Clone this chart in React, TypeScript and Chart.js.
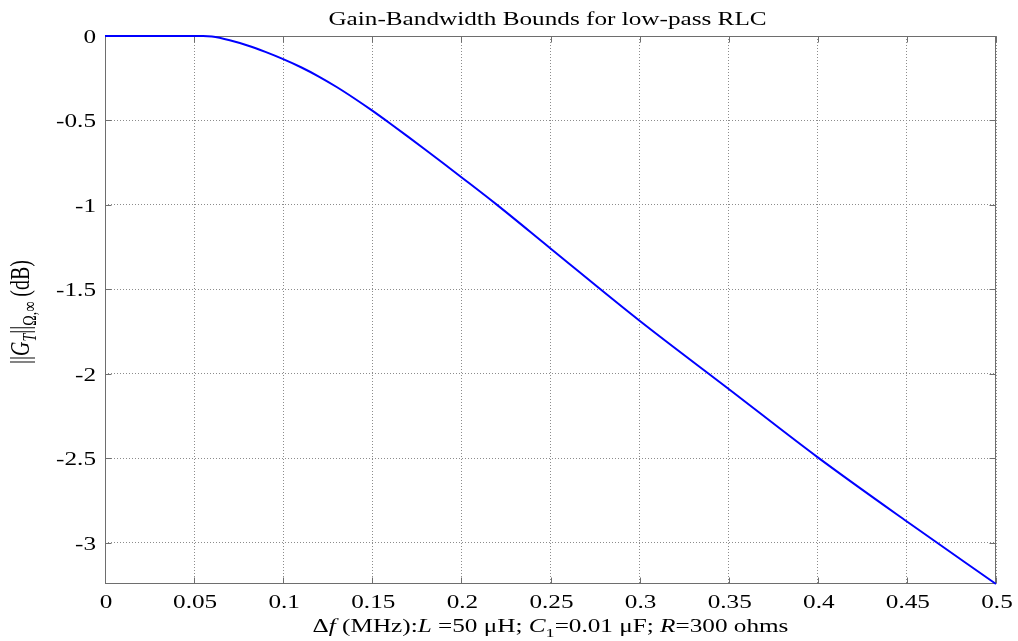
import React, { useEffect, useRef } from "react";
import { Chart, registerables } from "chart.js";

Chart.register(...registerables);

// Frequency offset Δf (MHz)
const freq = [
  0, 0.02, 0.04, 0.055, 0.06, 0.07, 0.08, 0.09, 0.1, 0.11, 0.12, 0.13, 0.14,
  0.15, 0.16, 0.17, 0.18, 0.19, 0.2, 0.22, 0.25, 0.3, 0.35, 0.4, 0.45, 0.5,
];
// Gain bound (dB)
const gainDb = [
  0, 0, 0, 0, -0.003, -0.025, -0.056, -0.094, -0.137, -0.185, -0.24, -0.302,
  -0.37, -0.442, -0.518, -0.596, -0.675, -0.755, -0.836, -1.0, -1.258, -1.686,
  -2.09, -2.495, -2.875, -3.245,
];
const xTicks = [0, 0.05, 0.1, 0.15, 0.2, 0.25, 0.3, 0.35, 0.4, 0.45, 0.5];
const xTickLabels = ["0", "0.05", "0.1", "0.15", "0.2", "0.25", "0.3", "0.35", "0.4", "0.45", "0.5"];
const yTicks = [0, -0.5, -1, -1.5, -2, -2.5, -3];
const yTickLabels = ["0", "-0.5", "-1", "-1.5", "-2", "-2.5", "-3"];
const xMin = 0;
const xMax = 0.5;
const yMin = -3.245;
const yMax = 0;

const titleText = "Gain-Bandwidth Bounds for low-pass RLC";
const serif = "'Liberation Serif', 'Times New Roman', serif";
const SX = 1.4; // horizontal stretch of the original figure's text

type Seg = { t: string; i?: boolean; sub?: boolean };
const xLabelSegs: Seg[] = [
  { t: "Δ" },
  { t: "f", i: true },
  { t: " (MHz):" },
  { t: "L", i: true },
  { t: " =50 μH; " },
  { t: "C", i: true },
  { t: "1", sub: true },
  { t: "=0.01 μF; " },
  { t: "R", i: true },
  { t: "=300 ohms" },
];
const yLabelSegs: Seg[] = [
  { t: "||" },
  { t: "G", i: true },
  { t: "T", i: true, sub: true },
  { t: "||" },
  { t: "Ω,∞", sub: true },
  { t: " (dB)" },
];

function drawSegs(ctx: CanvasRenderingContext2D, segs: Seg[], cx: number, y: number, size: number, sx: number) {
  const subSize = Math.round(size * 0.7);
  const fontOf = (s: Seg) => `${s.i ? "italic " : ""}${s.sub ? subSize : size}px ${serif}`;
  let total = 0;
  const widths = segs.map((s) => {
    ctx.font = fontOf(s);
    const w = ctx.measureText(s.t).width * sx;
    total += w;
    return w;
  });
  let x = cx - total / 2;
  segs.forEach((s, k) => {
    ctx.font = fontOf(s);
    ctx.save();
    ctx.translate(x, s.sub ? y + 5 : y);
    ctx.scale(sx, 1);
    ctx.textAlign = "left";
    ctx.textBaseline = "alphabetic";
    ctx.fillText(s.t, 0, 0);
    ctx.restore();
    x += widths[k];
  });
}

function drawText(ctx: CanvasRenderingContext2D, t: string, x: number, y: number, align: CanvasTextAlign) {
  ctx.save();
  ctx.translate(x, y);
  ctx.scale(SX, 1);
  ctx.textAlign = align;
  ctx.textBaseline = "alphabetic";
  ctx.fillText(t, 0, 0);
  ctx.restore();
}

const matlabPlugin = {
  id: "matlabDecor",
  beforeDatasetsDraw(chart: any) {
    const { ctx, chartArea: a, scales } = chart;
    ctx.save();
    const L = Math.round(a.left) + 0.5;
    const R = Math.round(a.right) - 0.5;
    const T = Math.round(a.top) + 0.5;
    const B = Math.round(a.bottom) - 0.5;
    ctx.strokeStyle = "#6e6e6e";
    ctx.lineWidth = 1;
    ctx.setLineDash([]);
    ctx.strokeRect(L, T, R - L, B - T);
    const tl = 6;
    ctx.beginPath();
    xTicks.forEach((v) => {
      const px = Math.round(scales.x.getPixelForValue(v)) + 0.5;
      ctx.moveTo(px, B);
      ctx.lineTo(px, B - tl);
      ctx.moveTo(px, T);
      ctx.lineTo(px, T + tl);
    });
    yTicks.forEach((v) => {
      const py = Math.round(scales.y.getPixelForValue(v)) + 0.5;
      ctx.moveTo(L, py);
      ctx.lineTo(L + tl, py);
      ctx.moveTo(R, py);
      ctx.lineTo(R - tl, py);
    });
    ctx.stroke();
    ctx.restore();
  },
  afterDraw(chart: any) {
    const { ctx, chartArea: a, scales } = chart;
    ctx.save();
    ctx.fillStyle = "#000";
    ctx.font = `18px ${serif}`;
    xTicks.forEach((v, i) => {
      drawText(ctx, xTickLabels[i], scales.x.getPixelForValue(v) + 1, 608, "center");
    });
    yTicks.forEach((v, i) => {
      drawText(ctx, yTickLabels[i], 96, scales.y.getPixelForValue(v) + 7, "right");
    });
    const cx = (a.left + a.right) / 2;
    ctx.font = `18px ${serif}`;
    drawText(ctx, titleText, cx - 3, 25, "center");

    drawSegs(ctx, xLabelSegs, cx, 632, 18, SX);

    ctx.save();
    ctx.translate(29, 312);
    ctx.scale(SX, 1);
    ctx.rotate(-Math.PI / 2);
    drawSegs(ctx, yLabelSegs, 0, 0, 20, 1);
    ctx.restore();
    ctx.restore();
  },
};

export default function App() {
  const ref = useRef<HTMLCanvasElement | null>(null);
  useEffect(() => {
    document.body.style.margin = "0";
    const canvas = ref.current;
    if (!canvas) return;
    const chart = new Chart(canvas, {
      type: "line",
      data: {
        datasets: [
          {
            data: freq.map((f, i) => ({ x: f, y: gainDb[i] })),
            borderColor: "#0000ff",
            borderWidth: 2,
            pointRadius: 0,
            cubicInterpolationMode: "monotone",
            fill: false,
            clip: false,
          },
        ],
      },
      options: {
        animation: false,
        responsive: false,
        maintainAspectRatio: false,
        layout: { padding: { left: 0, right: 22, top: 36, bottom: 0 } },
        plugins: { legend: { display: false }, tooltip: { enabled: false }, title: { display: false } },
        scales: {
          x: {
            type: "linear",
            min: xMin,
            max: xMax,
            afterBuildTicks: (s: any) => {
              s.ticks = xTicks.map((v) => ({ value: v }));
            },
            afterFit: (s: any) => {
              s.height = 57;
            },
            grid: { color: "#8c8c8c", lineWidth: 1, drawTicks: false, tickLength: 0 },
            border: { display: false, dash: [1, 2] },
            ticks: { display: false, autoSkip: false },
          },
          y: {
            type: "linear",
            min: yMin,
            max: yMax,
            afterBuildTicks: (s: any) => {
              s.ticks = yTicks.map((v) => ({ value: v }));
            },
            afterFit: (s: any) => {
              s.width = 105;
            },
            grid: { color: "#8c8c8c", lineWidth: 1, drawTicks: false, tickLength: 0 },
            border: { display: false, dash: [1, 2] },
            ticks: { display: false, autoSkip: false },
          },
        },
      },
      plugins: [matlabPlugin],
    } as any);
    return () => chart.destroy();
  }, []);
  return (
    <div style={{ width: 1018, height: 641 }}>
      <canvas ref={ref} width={1018} height={641} style={{ display: "block" }} />
    </div>
  );
}
